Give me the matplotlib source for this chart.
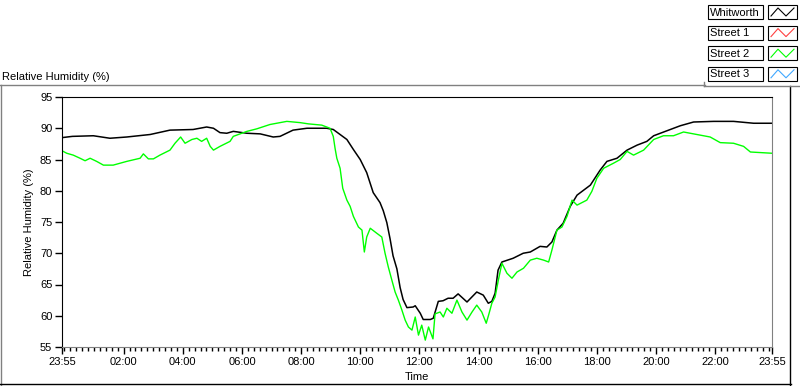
import matplotlib
matplotlib.use("Agg")
import matplotlib.pyplot as plt
from matplotlib.patches import Rectangle
from matplotlib.lines import Line2D
import numpy as np

plt.rcParams['font.family'] = 'Liberation Sans'
plt.rcParams['font.size'] = 8

# hours elapsed since 23:55 on the previous day
whit_t = [0.00, 0.35, 1.06, 1.62, 2.19, 2.98, 3.65, 4.43, 4.89, 5.12, 5.34, 5.57, 5.79,
          6.25, 6.70, 7.14, 7.37, 7.81, 8.28, 8.95, 9.17, 9.40, 9.63, 9.85, 10.08, 10.30,
          10.52, 10.75, 10.86, 10.98, 11.09, 11.19, 11.32, 11.43, 11.53, 11.66, 11.87,
          11.94, 12.11, 12.21, 12.45, 12.55, 12.72, 12.88, 13.05, 13.22, 13.39, 13.69,
          14.02, 14.24, 14.41, 14.53, 14.64, 14.74, 14.87, 15.25, 15.59, 15.83, 16.16,
          16.39, 16.56, 16.73, 16.94, 17.18, 17.41, 17.86, 18.19, 18.42, 18.76, 19.10,
          19.44, 19.77, 20.00, 20.45, 20.90, 21.35, 22.03, 22.70, 23.38, 24.00]
whit_rh = [88.5, 88.7, 88.8, 88.4, 88.6, 89.0, 89.7, 89.8, 90.2, 90.0, 89.3, 89.2, 89.5,
           89.2, 89.1, 88.6, 88.7, 89.7, 90.0, 90.0, 89.8, 89.0, 88.2, 86.6, 85.0, 82.9,
           79.7, 78.1, 76.8, 74.9, 72.3, 69.6, 67.5, 64.5, 62.6, 61.3, 61.4,
           61.6, 60.4, 59.4, 59.4, 59.6, 62.3, 62.4, 62.8, 62.8, 63.5, 62.2,
           63.8, 63.3, 62.0, 62.3, 63.6, 67.3, 68.6, 69.2, 70.0, 70.2, 71.1,
           71.0, 71.8, 73.7, 74.8, 77.5, 79.3, 80.9, 83.3, 84.7, 85.2, 86.5,
           87.3, 87.9, 88.8, 89.6, 90.4, 91.0, 91.1, 91.1, 90.8, 90.8]

st2_t = [0.00, 0.16, 0.38, 0.61, 0.78, 0.95, 1.17, 1.40, 1.73, 2.19, 2.64, 2.75, 2.92,
         3.09, 3.31, 3.65, 3.82, 4.01, 4.16, 4.39, 4.56, 4.72, 4.89, 5.01, 5.12, 5.34,
         5.68, 5.79, 6.25, 6.58, 7.03, 7.60, 8.05, 8.33, 8.78, 9.06, 9.17, 9.23, 9.29,
         9.40, 9.49, 9.63, 9.74, 9.85, 10.02, 10.14, 10.22, 10.30, 10.42, 10.64, 10.81,
         10.92, 11.03, 11.15, 11.26, 11.37, 11.49, 11.60, 11.71, 11.83, 11.94, 12.05,
         12.16, 12.28, 12.39, 12.54, 12.61, 12.78, 12.89, 13.01, 13.18, 13.35, 13.52,
         13.69, 13.86, 14.02, 14.19, 14.34, 14.42, 14.53, 14.64, 14.75, 14.87, 15.04,
         15.21, 15.38, 15.60, 15.83, 16.05, 16.28, 16.45, 16.56, 16.73, 16.90, 17.07,
         17.24, 17.41, 17.74, 17.91, 18.08, 18.31, 18.64, 18.87, 19.10, 19.32, 19.66,
         20.00, 20.33, 20.67, 21.01, 21.46, 21.91, 22.25, 22.70, 23.04, 23.27, 24.00]
st2_rh = [86.4, 86.0, 85.7, 85.2, 84.8, 85.2, 84.7, 84.1, 84.1, 84.7, 85.2, 85.9, 85.1,
          85.1, 85.7, 86.5, 87.6, 88.6, 87.6, 88.2, 88.4, 87.9, 88.4, 87.1, 86.5, 87.1,
          87.9, 88.7, 89.5, 89.9, 90.6, 91.1, 90.9, 90.7, 90.5, 90.0, 88.7, 86.8, 85.2,
          83.6, 80.4, 78.5, 77.5, 75.9, 74.2, 73.7, 70.2, 72.6, 74.0, 73.2, 72.6,
          70.0, 67.8, 65.7, 63.8, 62.5, 60.9, 59.3, 58.2, 57.7, 59.8, 56.9,
          58.5, 56.1, 58.2, 56.3, 60.3, 60.6, 59.8, 61.2, 60.4, 62.5, 60.6,
          59.3, 60.6, 61.7, 60.6, 58.8, 60.1, 62.0, 63.0, 65.7, 68.4, 66.8,
          66.0, 67.0, 67.6, 68.9, 69.2, 68.9, 68.6, 70.5, 73.7, 74.2, 75.9,
          78.5, 77.7, 78.5, 79.9, 82.0, 83.6, 84.4, 85.0, 86.3, 85.7, 86.5,
          88.2, 88.8, 88.8, 89.4, 89.0, 88.6, 87.7, 87.6, 87.1, 86.2, 86.0]

series_names = ['Whitworth', 'Street 1', 'Street 2', 'Street 3']
series_colors = ['black', '#ff4040', '#00ff00', '#40a8ff']

tick_hours = [0.0] + [2 + 5/60 + 2*k for k in range(11)] + [24.0]
tick_labels = ['23:55', '02:00', '04:00', '06:00', '08:00', '10:00', '12:00',
               '14:00', '16:00', '18:00', '20:00', '22:00', '23:55']

W, H = 800, 386
fig = plt.figure(figsize=(W/100, H/100), dpi=100)
ax = fig.add_axes([62/W, 1-347/H, 710/W, 250/H])

def px(x, y):
    return x/W, 1-y/H

ax.plot(whit_t, whit_rh, color=series_colors[0], lw=1.1)
ax.plot(st2_t, st2_rh, color=series_colors[2], lw=1.0)

ax.set_xlim(0, 24)
ax.set_ylim(55, 95)
ax.set_xticks(tick_hours)
ax.set_xticklabels(tick_labels)
ax.set_xticks(np.arange(5/60, 24, 0.2), minor=True)
ax.set_yticks(np.arange(55, 96, 5))
ax.tick_params(axis='both', direction='out', length=5, width=1, pad=2, labelsize=8)
ax.tick_params(axis='x', which='minor', length=3, width=1, color='black')
ax.spines['top'].set_color('black')
ax.spines['left'].set_color('black')
ax.spines['bottom'].set_color('#808080')
ax.spines['right'].set_color('#808080')
ax.set_xlabel('Time', fontsize=8, labelpad=4)
ax.set_ylabel('Relative Humidity (%)', fontsize=8, labelpad=4)

fig.text(*px(2, 77), 'Relative Humidity (%)', fontsize=8, va='center', ha='left')

# panel frame
gray = '#808080'
fig.add_artist(Line2D([0/W, 705/W], [1-85/H, 1-85/H], color=gray, lw=1))
fig.add_artist(Line2D([1/W, 1/W], [1-85/H, 1-385/H], color=gray, lw=1))
fig.add_artist(Line2D([0, 791/W], [1-384/H, 1-384/H], color='black', lw=1))
fig.add_artist(Line2D([790/W, 790/W], [1-86/H, 1-385/H], color='black', lw=1))
fig.add_artist(Line2D([704/W, 704/W], [1-82/H, 1-86/H], color=gray, lw=1))
fig.add_artist(Line2D([704/W, 800/W], [1-86/H, 1-86/H], color=gray, lw=1))

# legend
for i, (name, c) in enumerate(zip(series_names, series_colors)):
    y0 = 5 + i*20.6
    x0, y1 = px(708, y0 + 14)
    fig.add_artist(Rectangle((x0, y1), 55/W, 14/H, transform=fig.transFigure,
                             facecolor='white', edgecolor='black', lw=0.8))
    fig.text(*px(710, y0 + 7.5), name, fontsize=8, va='center', ha='left')
    sx, sy = px(768, y0 + 14)
    fig.add_artist(Rectangle((sx, sy), 29/W, 14/H, transform=fig.transFigure,
                             facecolor='white', edgecolor='black', lw=0.8))
    zx = [771, 778, 786, 794]
    zy = [y0 + 11, y0 + 3, y0 + 11, y0 + 3]
    fig.add_artist(Line2D([v/W for v in zx], [1-v/H for v in zy], color=c, lw=0.8))

fig.savefig('out.png', dpi=100)
